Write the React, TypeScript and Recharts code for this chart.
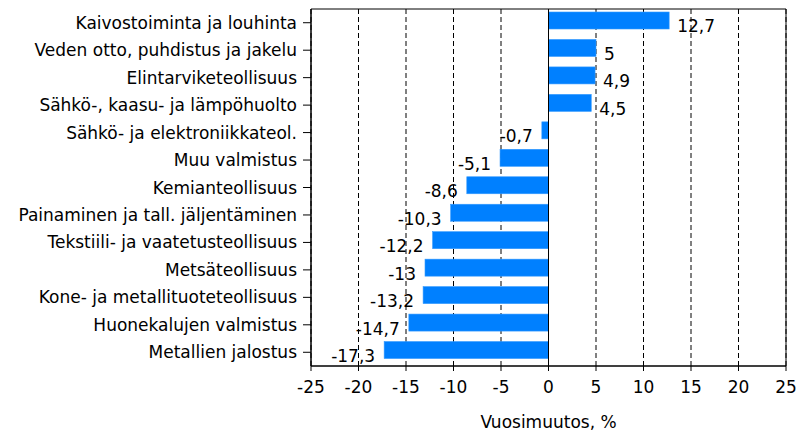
import React from 'react';
import { BarChart, Bar, XAxis, YAxis, CartesianGrid, ReferenceLine, ReferenceArea, LabelList } from 'recharts';

const categories = [
  'Kaivostoiminta ja louhinta',
  'Veden otto, puhdistus ja jakelu',
  'Elintarviketeollisuus',
  'Sähkö-, kaasu- ja lämpöhuolto',
  'Sähkö- ja elektroniikkateol.',
  'Muu valmistus',
  'Kemianteollisuus',
  'Painaminen ja tall. jäljentäminen',
  'Tekstiili- ja vaatetusteollisuus',
  'Metsäteollisuus',
  'Kone- ja metallituoteteollisuus',
  'Huonekalujen valmistus',
  'Metallien jalostus',
];

const values = [12.7, 5, 4.9, 4.5, -0.7, -5.1, -8.6, -10.3, -12.2, -13, -13.2, -14.7, -17.3];

const xTicks = [-25, -20, -15, -10, -5, 0, 5, 10, 15, 20, 25];

const axisTitle = 'Vuosimuutos, %';

const data = categories.map((name, i) => ({ name, value: values[i] }));

const FONT = 'DejaVu Sans';
const FS = 17;

const ValueLabel = (props: any) => {
  const { x, y, width, height, value } = props;
  const a = Number(x);
  const b = Number(x) + Number(width);
  const cy = Number(y) + Number(height) / 2;
  const text = String(value).replace('.', ',');
  if (value >= 0) {
    const end = Math.max(a, b);
    return (
      <text x={end + 8} y={cy + 4} dy="0.35em" textAnchor="start" fontFamily={FONT} fontSize={FS} fill="#000">
        {text}
      </text>
    );
  }
  const end = Math.min(a, b);
  return (
    <text x={end - 9} y={cy + 4} dy="0.35em" textAnchor="end" fontFamily={FONT} fontSize={FS} fill="#000">
      {text}
    </text>
  );
};

const BarShape = (props: any) => {
  const { x, y, width, height, fill } = props;
  const x0 = Math.min(x, x + width);
  const w = Math.abs(width);
  return <rect x={x0} y={y - 2} width={w} height={height} fill={fill} stroke="#3399ff" strokeWidth={0.6} />;
};

export default function App() {
  return (
    <div style={{ position: 'absolute', left: 0, top: 0, width: 797, height: 432, background: '#fff' }}>
      <BarChart
        width={797}
        height={432}
        data={data}
        layout="vertical"
        margin={{ top: 9, right: 11, bottom: 0, left: 0 }}
      >
        <CartesianGrid horizontal={false} vertical={true} stroke="#000" strokeDasharray="5 3" />
        <XAxis
          type="number"
          domain={[-25, 25]}
          ticks={xTicks}
          interval={0}
          height={66}
          tickSize={5}
          tickMargin={10}
          stroke="#000"
          tick={{ fill: '#000', fontFamily: FONT, fontSize: FS }}
          label={{ value: axisTitle, position: 'insideBottom', offset: 4, fill: '#000', fontFamily: FONT, fontSize: FS }}
        />
        <YAxis
          type="category"
          dataKey="name"
          width={311}
          tickSize={8}
          tickMargin={6}
          interval={0}
          stroke="#000"
          tick={{ fill: '#000', fontFamily: FONT, fontSize: FS }}
        />
        <ReferenceArea x1={-25} x2={25} fill="none" fillOpacity={0} stroke="#000" strokeWidth={1} />
        <Bar dataKey="value" fill="#0080ff" barSize={17} isAnimationActive={false} shape={<BarShape />}>
          <LabelList dataKey="value" content={<ValueLabel />} />
        </Bar>
        <ReferenceLine x={0} stroke="#000" strokeWidth={1} />
      </BarChart>
    </div>
  );
}
